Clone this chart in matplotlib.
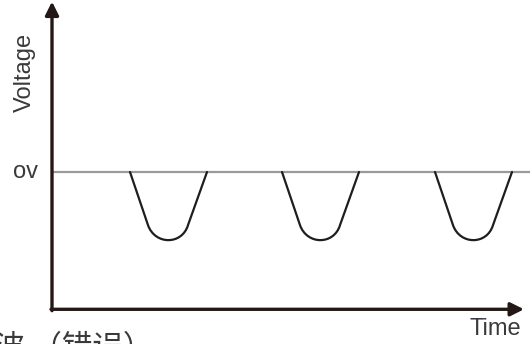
import matplotlib
matplotlib.use('Agg')
import matplotlib.pyplot as plt
from matplotlib.path import Path
from matplotlib.patches import PathPatch

plt.rcParams['font.family'] = ['Liberation Sans', 'Noto Sans CJK SC', 'DejaVu Sans']

# waveform data (time in arbitrary units, voltage relative to 0v, dip depth = 1)
dip_starts = [130, 282, 435]
dip_width = 77
dip_depth = 1.0
# shape of one dip: offsets in time, levels in fraction of depth
dip_dx = [0, 18, 25, 52, 58, 77]
dip_dy = [0, -0.77, -1.06, -1.06, -0.77, 0]

axis_origin = (52, -1.99)
x_axis_end = 524
y_axis_end = 2.47
zero_level = 0.0

labels = {'volt': 'Voltage', 'zero': 'ov', 'time': 'Time', 'caption': '波 （错误）'}

fig = plt.figure(figsize=(5.30, 3.44), dpi=100)
ax = fig.add_axes([0, 0, 1, 1])
ax.set_xlim(0, 530)
ax.set_ylim(-2.493, 2.493)
ax.axis('off')

axis_color = '#231815'

# 0v reference line
ax.plot([axis_origin[0], 530], [zero_level, zero_level], color='#9a9a9a', lw=1.6, zorder=1)

# dips
codes = [Path.MOVETO, Path.LINETO, Path.CURVE4, Path.CURVE4, Path.CURVE4, Path.LINETO]
for s in dip_starts:
    verts = [(s + dx, zero_level + dy * dip_depth) for dx, dy in zip(dip_dx, dip_dy)]
    ax.add_patch(PathPatch(Path(verts, codes), fill=False, ec='#1e1e1e', lw=1.6, zorder=2,
                           capstyle='round', joinstyle='round'))

# axes with arrows
ax.annotate('', xy=(axis_origin[0], y_axis_end), xytext=(axis_origin[0], axis_origin[1] - 0.02),
            arrowprops=dict(arrowstyle='-|>', lw=2.4, color=axis_color, mutation_scale=20,
                            shrinkA=0, shrinkB=0))
ax.annotate('', xy=(x_axis_end, axis_origin[1]), xytext=(axis_origin[0] - 1, axis_origin[1]),
            arrowprops=dict(arrowstyle='-|>', lw=2.4, color=axis_color, mutation_scale=20,
                            shrinkA=0, shrinkB=0))

txt_color = '#3a3a3a'
ax.text(25, 1.44, labels['volt'], rotation=90, ha='center', va='center', fontsize=17, color=txt_color)
ax.text(25, 0.0, labels['zero'], ha='center', va='center', fontsize=17, color=txt_color)
ax.text(495, -2.27, labels['time'], ha='center', va='center', fontsize=17, color=txt_color)
ax.text(-6, -2.33, labels['caption'], ha='left', va='top', fontsize=22, color=txt_color,
        family=['Noto Sans CJK SC', 'DejaVu Sans'])

fig.savefig('out.png', dpi=100)
